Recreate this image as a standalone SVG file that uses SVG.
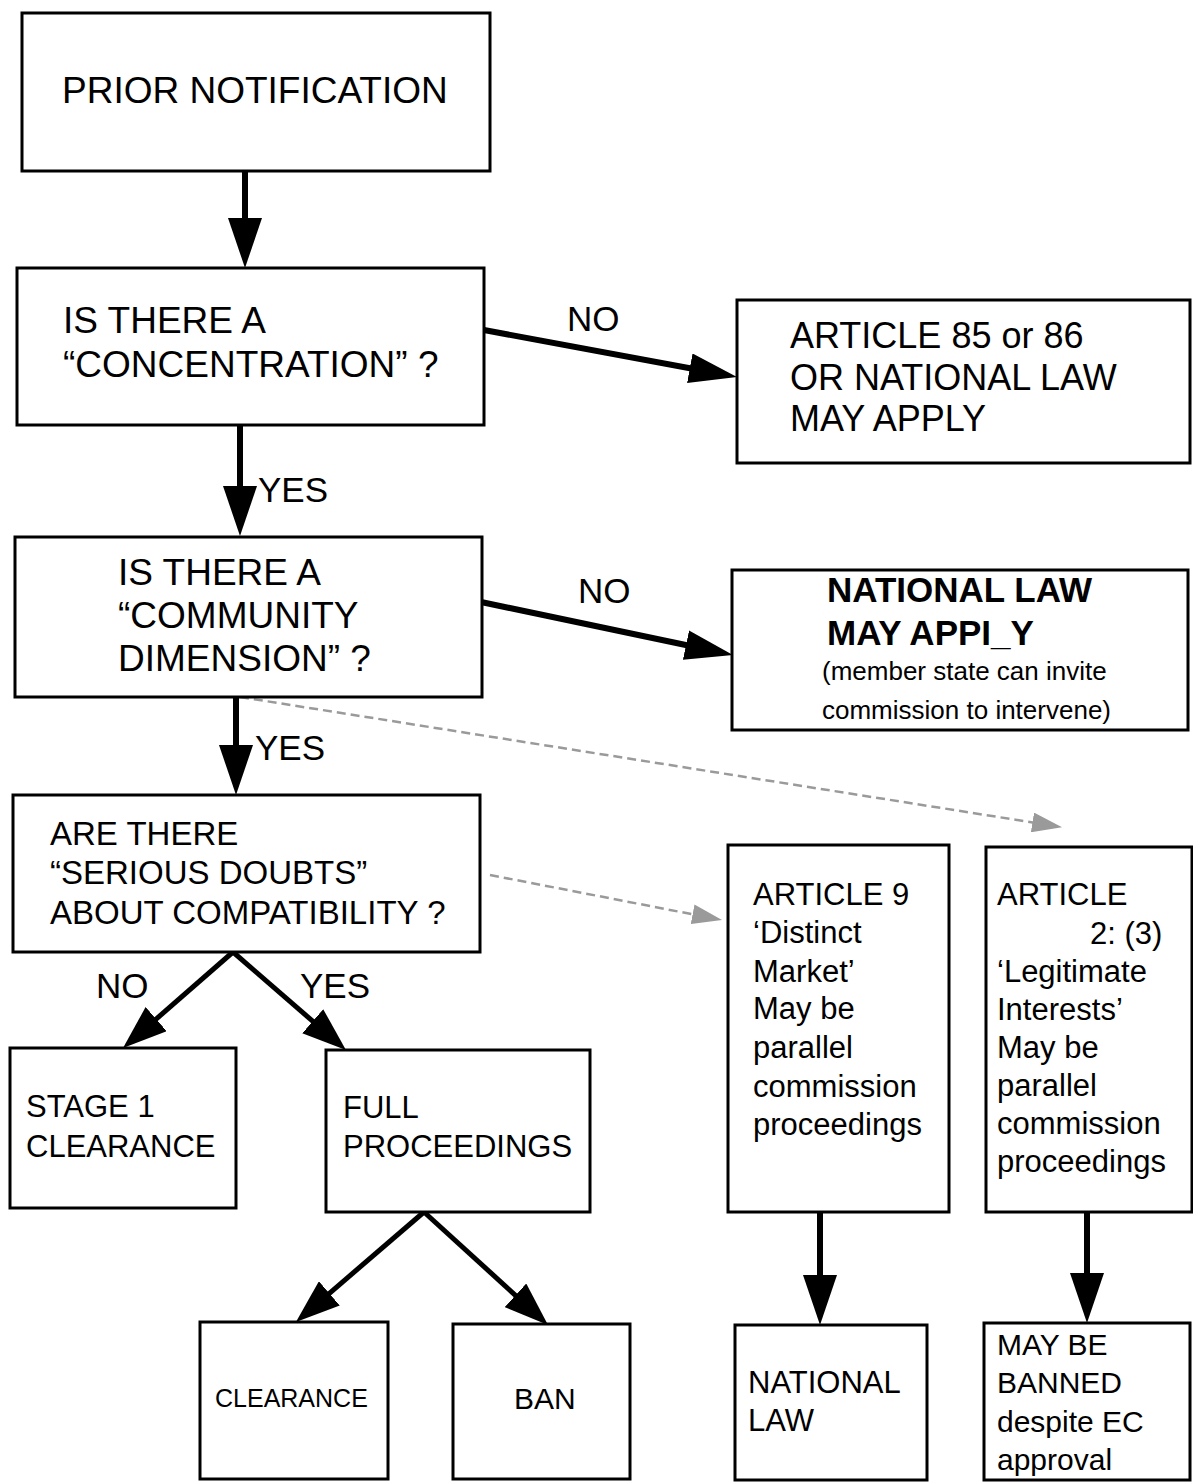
<svg xmlns="http://www.w3.org/2000/svg" width="1193" height="1482" viewBox="0 0 1193 1482">
<style>
.box{fill:#fff;stroke:#000;stroke-width:3}
text{font-family:"Liberation Sans",Arial,Helvetica,sans-serif;fill:#000}
.t37{font-size:37px}
.t36{font-size:36px}
.t35{font-size:35px}
.t33{font-size:33px}
.t31{font-size:31px}
.t30{font-size:30px}
.t26{font-size:26px}
.t25{font-size:25px}
.b35{font-size:35px;font-weight:bold}
.con{stroke:#000;stroke-width:6;fill:none}
.con2{stroke:#000;stroke-width:5;fill:none}
.dot{stroke:#9a9a9a;stroke-width:2.5;fill:none;stroke-dasharray:9 5}
</style>
<defs>
<marker id="ah" markerUnits="userSpaceOnUse" markerWidth="50" markerHeight="34" refX="20" refY="17" orient="auto"><path d="M0,0 L50,17 L0,34 z" fill="#000"/></marker>
<marker id="ahn" markerUnits="userSpaceOnUse" markerWidth="48" markerHeight="30" refX="18" refY="15" orient="auto"><path d="M0,0 L48,15 L0,30 z" fill="#000"/></marker>
<marker id="ahd" markerUnits="userSpaceOnUse" markerWidth="44" markerHeight="32" refX="16" refY="16" orient="auto"><path d="M0,0 L44,16 L0,32 z" fill="#000"/></marker>
<marker id="ahg" markerUnits="userSpaceOnUse" markerWidth="30" markerHeight="20" refX="10" refY="10" orient="auto"><path d="M0,0 L30,10 L0,20 z" fill="#9a9a9a"/></marker>
</defs>
<rect width="1193" height="1482" fill="#fff"/>

<g id="connectors">
<line class="con" x1="245" y1="171" x2="245" y2="238" marker-end="url(#ah)"/>
<line class="con" x1="240" y1="425" x2="240" y2="506" marker-end="url(#ah)"/>
<line class="con" x1="236" y1="697" x2="236" y2="765" marker-end="url(#ah)"/>
<line class="con" x1="484" y1="330" x2="707.5" y2="371.5" marker-end="url(#ahn)"/>
<line class="con" x1="481" y1="602" x2="703.6" y2="648.8" marker-end="url(#ahn)"/>
<line class="con2" x1="233" y1="952" x2="144.1" y2="1029.6" marker-end="url(#ahd)"/>
<line class="con2" x1="233" y1="952" x2="324.8" y2="1031.7" marker-end="url(#ahd)"/>
<line class="con2" x1="424" y1="1212" x2="317.2" y2="1303.8" marker-end="url(#ahd)"/>
<line class="con2" x1="424" y1="1212" x2="527.3" y2="1306.1" marker-end="url(#ahd)"/>
<line class="con" x1="820" y1="1212" x2="820" y2="1295" marker-end="url(#ah)"/>
<line class="con" x1="1087" y1="1212" x2="1087" y2="1293" marker-end="url(#ah)"/>
<line class="dot" x1="240" y1="697" x2="1042.3" y2="824" marker-end="url(#ahg)"/>
<line class="dot" x1="490" y1="875" x2="702.4" y2="916.2" marker-end="url(#ahg)"/>
<text class="t35" x="258" y="502">YES</text>
<text class="t35" x="255" y="760">YES</text>
<text class="t35" x="567" y="331">NO</text>
<text class="t35" x="578" y="603">NO</text>
<text class="t35" x="96" y="998">NO</text>
<text class="t35" x="300" y="998">YES</text>
</g>

<g id="prior-notification">
<rect class="box" x="22" y="13" width="468" height="158"/>
<text class="t37" x="62" y="103">PRIOR NOTIFICATION</text>
</g>

<g id="concentration">
<rect class="box" x="17" y="268" width="467" height="157"/>
<text class="t37" x="63" y="333">IS THERE A</text>
<text class="t37" x="63" y="377">“CONCENTRATION” ?</text>
</g>

<g id="article-85-86">
<rect class="box" x="737" y="300" width="453" height="163"/>
<text class="t36" x="790" y="348">ARTICLE 85 or 86</text>
<text class="t36" x="790" y="390">OR NATIONAL LAW</text>
<text class="t36" x="790" y="431">MAY APPLY</text>
</g>

<g id="community-dimension">
<rect class="box" x="15" y="537" width="467" height="160"/>
<text class="t37" x="118" y="585">IS THERE A</text>
<text class="t37" x="118" y="628">“COMMUNITY</text>
<text class="t37" x="118" y="671">DIMENSION” ?</text>
</g>

<g id="national-law-may-apply">
<rect class="box" x="732" y="570" width="456" height="160"/>
<text class="b35" x="827" y="602">NATIONAL LAW</text>
<text class="b35" x="827" y="645">MAY APPI_Y</text>
<text class="t26" x="822" y="680">(member state can invite</text>
<text class="t26" x="822" y="719">commission to intervene)</text>
</g>

<g id="serious-doubts">
<rect class="box" x="13" y="795" width="467" height="157"/>
<text class="t33" x="50" y="845">ARE THERE</text>
<text class="t33" x="50" y="884">“SERIOUS DOUBTS”</text>
<text class="t33" x="50" y="924">ABOUT COMPATIBILITY ?</text>
</g>

<g id="stage-1-clearance">
<rect class="box" x="10" y="1048" width="226" height="160"/>
<text class="t31" x="26" y="1117">STAGE 1</text>
<text class="t31" x="26" y="1157">CLEARANCE</text>
</g>

<g id="full-proceedings">
<rect class="box" x="326" y="1050" width="264" height="162"/>
<text class="t31" x="343" y="1118">FULL</text>
<text class="t31" x="343" y="1157">PROCEEDINGS</text>
</g>

<g id="clearance">
<rect class="box" x="200" y="1322" width="188" height="157"/>
<text class="t25" x="215" y="1407">CLEARANCE</text>
</g>

<g id="ban">
<rect class="box" x="453" y="1324" width="177" height="155"/>
<text class="t30" x="514" y="1409">BAN</text>
</g>

<g id="article-9">
<rect class="box" x="728" y="845" width="221" height="367"/>
<text class="t31" x="753" y="905">ARTICLE 9</text>
<text class="t31" x="753" y="943">‘Distinct</text>
<text class="t31" x="753" y="982">Market’</text>
<text class="t31" x="753" y="1019">May be</text>
<text class="t31" x="753" y="1058">parallel</text>
<text class="t31" x="753" y="1097">commission</text>
<text class="t31" x="753" y="1135">proceedings</text>
</g>

<g id="article-21-3">
<rect class="box" x="986" y="847" width="206" height="365"/>
<text class="t31" x="997" y="905">ARTICLE</text>
<text class="t31" x="1090" y="944">2: (3)</text>
<text class="t31" x="997" y="982">‘Legitimate</text>
<text class="t31" x="997" y="1020">Interests’</text>
<text class="t31" x="997" y="1058">May be</text>
<text class="t31" x="997" y="1096">parallel</text>
<text class="t31" x="997" y="1134">commission</text>
<text class="t31" x="997" y="1172">proceedings</text>
</g>

<g id="national-law">
<rect class="box" x="735" y="1325" width="192" height="155"/>
<text class="t31" x="748" y="1393">NATIONAL</text>
<text class="t31" x="748" y="1431">LAW</text>
</g>

<g id="may-be-banned">
<rect class="box" x="984" y="1323" width="206" height="157"/>
<text class="t30" x="997" y="1355">MAY BE</text>
<text class="t30" x="997" y="1393">BANNED</text>
<text class="t30" x="997" y="1432">despite EC</text>
<text class="t30" x="997" y="1470">approval</text>
</g>
</svg>
